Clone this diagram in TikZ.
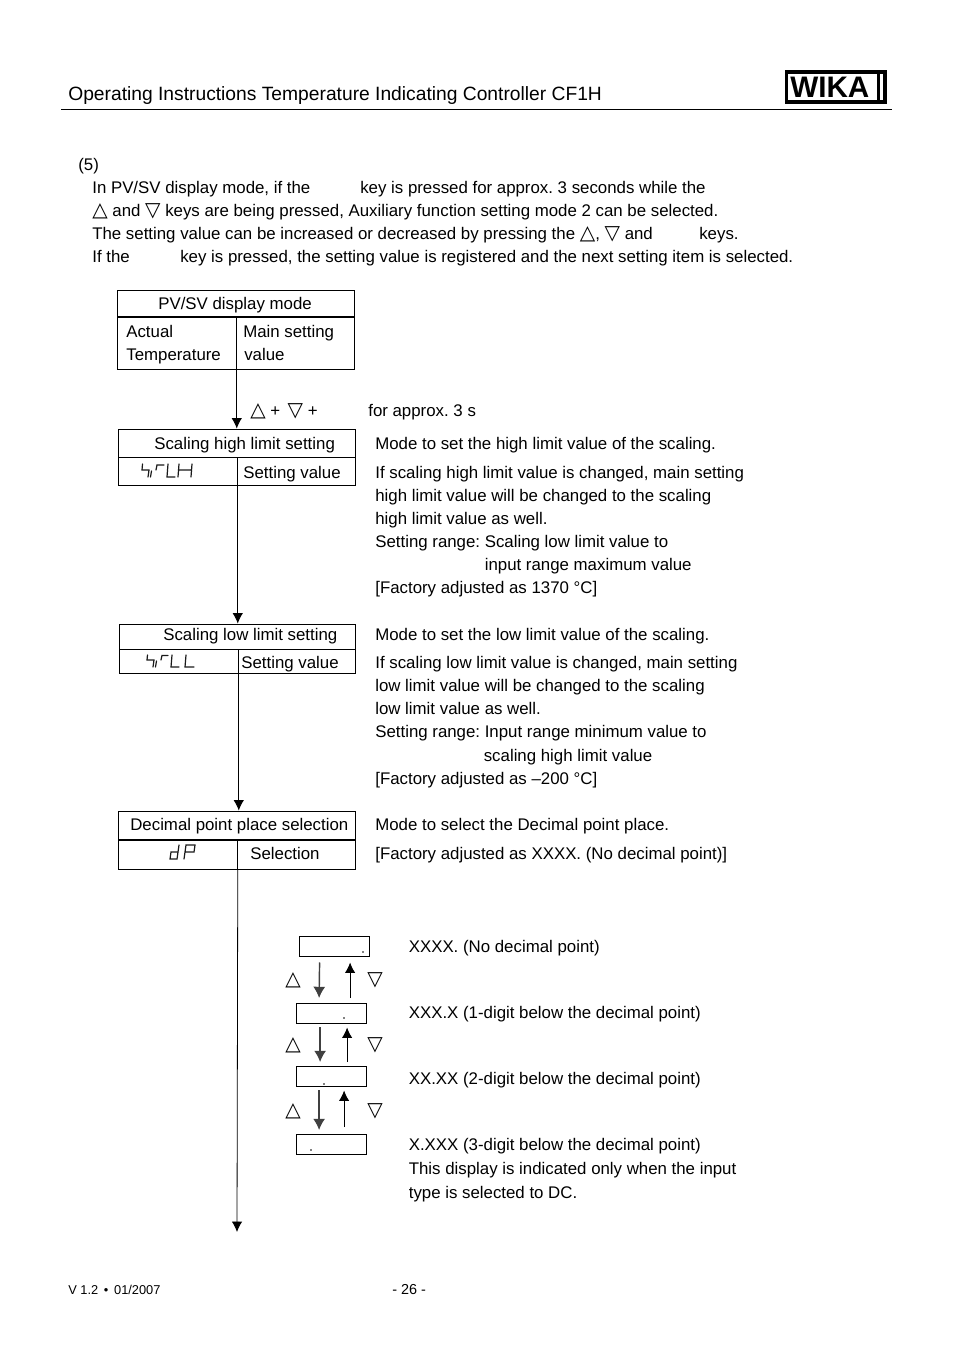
\documentclass[tikz,border=0pt]{standalone}
\usepackage{fontspec}
\setmainfont{Liberation Sans}
\newfontfamily\symfont{DejaVu Sans}
\usetikzlibrary{arrows.meta, calc}
\frenchspacing
\newcommand{\up}{{\symfont\fontsize{12.5}{12.5}\selectfont △}}
\newcommand{\dn}{{\symfont\fontsize{12.5}{12.5}\selectfont ▽}}

\begin{document}
\begin{tikzpicture}[
  x=0.6237pt, y=-0.6237pt,
  every node/.style={font=\fontsize{10.5}{12}\selectfont},
  txt/.style={anchor=base west, inner sep=0pt},
  cell/.style={rectangle, draw=black, line width=0.5pt, inner sep=0pt, anchor=north west, yshift=0.3pt},
  disp/.style={rectangle, draw=black, line width=0.8pt, inner sep=0pt, anchor=north west,
               minimum width=43.6pt, minimum height=12.6pt},
  pnt/.style={circle, fill=black, inner sep=0pt, minimum size=1.2pt},
  arr/.style={-{Latex[length=6.5pt, width=6.5pt]}, line width=0.5pt, black},
  keyarr/.style={-{Latex[length=7pt, width=7.5pt]}, line width=0.9pt, black!75},
  seg/.style={line width=0.75pt, black!90, line cap=round}
]
  \useasboundingbox (0,0) rectangle (954,1350);

  % Header
  \node[txt, font=\fontsize{12}{14}\selectfont] (title) at (68,101)
    {Operating Instructions Temperature Indicating Controller CF1H};
  \coordinate (ruleL) at (61,109.5);
  \coordinate (ruleR) at (892,109.5);
  \draw[line width=0.6pt] (ruleL) -- (ruleR);
  \node[rectangle, draw=black, line width=2.2pt, inner sep=0pt, anchor=north west,
        minimum width=61.5pt, minimum height=19pt] (logo) at (784.5,70) {};
  \node[txt, font=\fontsize{18.5}{20}\selectfont\bfseries] (wika) at (790,98) {WIKA};
  \fill (876.5,70) rectangle (880,102);

  % Intro text
  \node[txt] (num)    at (78,171)  {(5)};
  \node[txt] (introA) at (92,194)  {In PV/SV display mode, if the};
  \node[txt] (introB) at (360,194) {key is pressed for approx. 3 seconds while the};
  \node[txt] (introC) at (92,217)  {\up{} and \dn{} keys are being pressed, Auxiliary function setting mode 2 can be selected.};
  \node[txt] (introD) at (92,240)  {The setting value can be increased or decreased by pressing the \up, \dn{} and};
  \node[txt] (introE) at (699,240) {keys.};
  \node[txt] (introF) at (92,263)  {If the};
  \node[txt] (introG) at (180,263) {key is pressed, the setting value is registered and the next setting item is selected.};

  % PV/SV display mode
  \node[cell, minimum width=148.1pt, minimum height=16.8pt] (pvTop) at (117,290) {};
  \node[cell, minimum width=74.2pt, minimum height=33pt] (pvL) at (117,317) {};
  \node[cell, minimum width=73.9pt, minimum height=33pt] (pvR) at (236,317) {};
  \node[txt] (pvT) at (158,309) {PV/SV display mode};
  \node[txt] (pvA) at (126,337) {Actual};
  \node[txt] (pvB) at (126,360) {Temperature};
  \node[txt] (pvC) at (243,337) {Main setting};
  \node[txt] (pvD) at (244,360) {value};

  \node[txt] (keyA) at (250,416) {\up{} + \,\dn{} +};
  \node[txt] (keyB) at (368,416) {for approx. 3 s};

  % Scaling high limit
  \node[cell, minimum width=148.1pt, minimum height=17.5pt] (hiTop) at (118,429) {};
  \node[cell, minimum width=74.2pt, minimum height=18pt] (hiL) at (118,457) {};
  \node[cell, minimum width=73.9pt, minimum height=18pt] (hiR) at (237,457) {};
  \node[txt] (hiT) at (154,449) {Scaling high limit setting};
  \node[txt] (hiV) at (243,478) {Setting value};
  \begin{scope}[shift={(142,463)}]
    \draw[seg] (0.5,1) -- (0,7) -- (7,7) -- (6,14) (9.5,8) -- (8.5,14) (14,7) -- (15,2) -- (22,2)
      (26,1) -- (25,14) -- (33,14) (37,1) -- (36,14) (50,1) -- (49,14) (36.5,7) -- (49.5,7);
  \end{scope}

  \node[txt] (tA) at (375,449) {Mode to set the high limit value of the scaling.};
  \node[txt] (tB) at (375,478) {If scaling high limit value is changed, main setting};
  \node[txt] (tC) at (375,501) {high limit value will be changed to the scaling};
  \node[txt] (tD) at (375,524) {high limit value as well.};
  \node[txt] (tE) at (375,547) {Setting range: Scaling low limit value to};
  \node[txt] (tF) at (484.5,570) {input range maximum value};
  \node[txt] (tG) at (375,593) {[Factory adjusted as 1370 °C]};

  % Scaling low limit
  \node[cell, minimum width=147.5pt, minimum height=15.6pt] (loTop) at (119,624) {};
  \node[cell, minimum width=74.2pt, minimum height=15pt] (loL) at (119,649) {};
  \node[cell, minimum width=73pt, minimum height=15pt] (loR) at (238,649) {};
  \node[txt] (loT) at (163,640) {Scaling low limit setting};
  \node[txt] (loV) at (241,668) {Setting value};
  \begin{scope}[shift={(147,654)}]
    \draw[seg] (0.5,1) -- (0,6) -- (7,6) -- (6,13) (9.5,7) -- (8.5,13) (14,6) -- (15,1.5) -- (21,1.5)
      (25,1) -- (24,13) -- (32,13) (39,1) -- (38,13) -- (47,13);
  \end{scope}

  \node[txt] (uA) at (375,640) {Mode to set the low limit value of the scaling.};
  \node[txt] (uB) at (375,668) {If scaling low limit value is changed, main setting};
  \node[txt] (uC) at (375,691) {low limit value will be changed to the scaling};
  \node[txt] (uD) at (375,714) {low limit value as well.};
  \node[txt] (uE) at (375,737) {Setting range: Input range minimum value to};
  \node[txt] (uF) at (483.5,761) {scaling high limit value};
  \node[txt] (uG) at (375,784) {[Factory adjusted as –200 °C]};

  % Decimal point
  \node[cell, minimum width=148.1pt, minimum height=18pt] (dpTop) at (118,811) {};
  \node[cell, minimum width=74.2pt, minimum height=18.6pt] (dpL) at (118,840) {};
  \node[cell, minimum width=73.9pt, minimum height=18.6pt] (dpR) at (237,840) {};
  \node[txt] (dpT) at (130,830) {Decimal point place selection};
  \node[txt] (dpV) at (250,859) {Selection};
  \begin{scope}[shift={(170,844)}]
    \draw[seg] (9,1) -- (7,15) -- (0,15) -- (1,8) -- (8,8) (14,15) -- (16,1) -- (25,1) -- (24,8) -- (15,8);
  \end{scope}

  \node[txt] (vA) at (375,830) {Mode to select the Decimal point place.};
  \node[txt] (vB) at (375,859) {[Factory adjusted as XXXX. (No decimal point)]};

  % Main flow
  \draw[arr] (pvL.south east) -- (hiTop.north -| pvL.south east);
  \draw[arr] (hiL.south east) -- (loTop.north -| hiL.south east);
  \draw[arr] (loL.south east) -- (dpTop.north -| loL.south east);
  \coordinate (flowEnd) at (237,1232);
  \draw[arr] (dpL.south east) -- (flowEnd);

  % Decimal place displays
  \node[disp] (dispA) at (299,936) {};
  \node[disp] (dispB) at (296,1003) {};
  \node[disp] (dispC) at (296,1066) {};
  \node[disp] (dispD) at (296,1134) {};
  \node[pnt] (dotA) at (363,952) {};
  \node[pnt] (dotB) at (344,1018) {};
  \node[pnt] (dotC) at (324,1084) {};
  \node[pnt] (dotD) at (311,1150) {};

  \draw[keyarr] ($(dispA.south)+(-15,5)$) -- ($(dispB.north)+(-12.5,-5)$);
  \draw[keyarr] ($(dispB.south)+(-11.5,3)$) -- ($(dispC.north)+(-11.5,-4)$);
  \draw[keyarr] ($(dispC.south)+(-12.5,3)$) -- ($(dispD.north)+(-12.5,-4)$);
  \draw[arr, line width=0.6pt] ($(dispB.north)+(18.5,-5)$) -- ($(dispA.south)+(15.5,5)$);
  \draw[arr, line width=0.6pt] ($(dispC.north)+(15.5,-4)$) -- ($(dispB.south)+(15.5,3)$);
  \draw[arr, line width=0.6pt] ($(dispD.north)+(12.5,-7)$) -- ($(dispC.south)+(12.5,3)$);

  \node[txt] (upA) at (285,985)  {\up};
  \node[txt] (upB) at (285,1050) {\up};
  \node[txt] (upC) at (285,1116) {\up};
  \node[txt] (dnA) at (367,985)  {\dn};
  \node[txt] (dnB) at (367,1050) {\dn};
  \node[txt] (dnC) at (367,1116) {\dn};

  \node[txt] (xA) at (408.5,952)  {XXXX. (No decimal point)};
  \node[txt] (xB) at (408.5,1018) {XXX.X (1-digit below the decimal point)};
  \node[txt] (xC) at (408.5,1084) {XX.XX (2-digit below the decimal point)};
  \node[txt] (xD) at (408.5,1150) {X.XXX (3-digit below the decimal point)};
  \node[txt] (xE) at (408.5,1174) {This display is indicated only when the input};
  \node[txt] (xF) at (408.5,1198) {type is selected to DC.};

  % Footer
  \node[txt, font=\fontsize{8}{10}\selectfont] (ver) at (68,1294) {V 1.2 \,•\, 01/2007};
  \node[txt, font=\fontsize{9}{11}\selectfont] (page) at (392,1294) {- 26 -};
\end{tikzpicture}
\end{document}
